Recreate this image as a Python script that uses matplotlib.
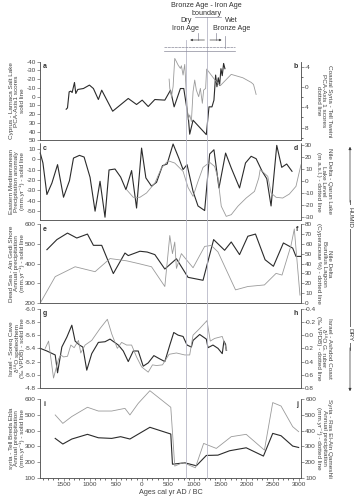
import numpy as np
import matplotlib.pyplot as plt
from matplotlib.ticker import MultipleLocator, FuncFormatter

plt.rcParams['font.family'] = ['Liberation Sans', 'DejaVu Sans']

# years: negative = AD, positive = BC
a_yr = [-1449, -1424, -1392, -1360, -1335, -1290, -1265, -1227, -1119, -1004, -928, -833, -769, -559,
        -261, -102, 6, 121, 248, 439, 547, 617, 737, 801, 890, 915, 979, 1233, 1284, 1341, 1379,
        1411, 1436, 1462, 1487, 1513, 1538, 1564, 1589]
a_val = [14.4, 12.9, -5.5, -6.3, -4.7, -16.2, -3.6, -8.2, -9.3, -13.2, -9.3, 3.3, -7.4, 16.7,
         2.1, 9, 4, 11.3, 3.3, 4, -7.4, 11.7, -9.3, -9.3, 25, 43, 27, 43.5, 11.7, 11.7, 4,
         -24.7, -11.3, -21.6, -13, -32, -24, -38, -32]

b_yr = [521, 534, 566, 597, 629, 661, 693, 737, 756, 788, 820, 852, 883, 915, 947, 979, 1011,
        1042, 1087, 1119, 1157, 1182, 1220, 1239, 1424, 1500, 1710, 1932, 2091, 2136, 2186]
b_val = [-1.57, 0.26, 1.9, -0.08, -5.65, -5.0, -4.34, -3.68, -4.2, -2.37, -4.47, 1.58, 6.5, 5.5,
         6.8, 0.92, -1.38, 0.6, 1.9, 0.26, 3.2, 0.6, 0.26, -3.55, -1.05, -0.27, -2.5, -1.83,
         -0.92, -0.52, 1.45]

c_yr = [-1945, -1894, -1818, -1722, -1614, -1500, -1386, -1309, -1195, -1106, -992, -896, -801,
        -706, -629, -515, -407, -305, -197, -102, -6, 76, 184, 280, 394, 483, 597, 706, 788, 864,
        979, 1074, 1201, 1297, 1379, 1475, 1602, 1710, 1869, 1983, 2091, 2186, 2301, 2390, 2472,
        2581, 2676, 2771, 2873]
c_val = [5.8, -3.7, -34, -23, -5.3, -36.6, -20.7, 1, 3.6, 2, -17.5, -50, -21.3, -55.8, -10.4,
         -9.5, -17.2, -29.3, -11, -47, 10.6, -18, -26, -22.3, -6.3, -4.7, 14.5, 1, -10, -5.3,
         -31, -45, -49.4, 4.9, 9, -27.7, 5.8, -8.5, -27.7, -3.7, 2.7, 0.4, -11.7, -18.8, -45,
         13.2, -7.9, -4.7, -11.7]

d_yr = [-292, -165, -38, 89, 248, 375, 502, 629, 788, 883, 979, 1074, 1170, 1297, 1392, 1456,
        1519, 1614, 1710, 1837, 1996, 2155, 2237, 2263, 2301, 2409, 2472, 2568, 2695, 2822,
        2949, 3000, 3045]
d_val = [-7.3, -13.6, -13.6, -10, -1.8, 10.7, 16.7, 14.8, 7.9, -5.4, -12.8, -0.4, 11.2, 15.4,
         12, 2.4, -21, -29.4, -28, -21, -14.2, -8.7, 2.4, 9.3, 8, 3.8, -10, -13.6, -14.2,
         -10.9, -4.5, 5.1, 13.4]

e_yr = [-1818, -1627, -1424, -1246, -1042, -928, -769, -547, -324, -261, -38, 102, 248, 439,
        661, 883, 1170, 1373, 1583, 1710, 1869, 2028, 2174, 2358, 2517, 2708, 2886, 2949, 3045]
e_val = [470, 521, 554, 529, 549, 492, 492, 349, 453, 440, 462, 458, 445, 372, 424, 330, 315,
         521, 467, 509, 445, 538, 549, 419, 386, 504, 478, 436, 436]

f_yr = [-1945, -1659, -1278, -896, -610, -292, -70, 184, 439, 534, 585, 629, 661, 756, 979,
        1201, 1328, 1456, 1792, 2028, 2345, 2568, 2682, 2854, 2917, 3025]
f_val = [0, 26.7, 36.7, 31.7, 45, 42.7, 40, 36.7, 16.7, 68.3, 50, 61.7, 35, 50, 35.7, 57.3,
         58.3, 51.7, 13.3, 16.7, 18.3, 30, 28.3, 58.3, 75, 8]

g_yr = [-1945, -1818, -1659, -1614, -1532, -1436, -1341, -1278, -1195, -1131, -1055, -960, -833,
        -706, -610, -451, -356, -261, -165, -70, 25, 121, 229, 343, 439, 534, 610, 693, 788,
        864, 947, 979, 1106, 1233, 1265, 1360, 1456, 1538, 1570, 1602, 1614]
g_val = [-5.40, -5.36, -5.30, -5.03, -5.42, -5.57, -5.75, -5.51, -5.45, -5.42, -5.07, -5.32,
         -5.49, -5.50, -5.54, -5.45, -5.36, -5.20, -5.36, -5.36, -5.13, -5.18, -5.29, -5.24,
         -5.20, -5.45, -5.64, -5.60, -5.58, -5.45, -5.42, -5.52, -5.61, -5.54, -5.41, -5.45,
         -5.40, -5.32, -5.51, -5.46, -5.37]

h_yr = [-1850, -1786, -1691, -1595, -1551, -1500, -1424, -1360, -1297, -1214, -1170, -1087,
        -960, -801, -661, -578, -470, -388, -292, -197, -102, -6, 121, 203, 280, 394, 521, 661,
        820, 915, 979, 1106, 1246, 1309, 1392, 1538, 1583, 1627]
h_val = [0.2, 0.09, 0.65, 0.36, 0.30, 0.33, 0.32, 0.15, 0.19, 0.08, 0.27, 0.15, 0.08, -0.10,
         -0.24, -0.02, 0.20, 0.11, 0.15, 0.15, 0.33, 0.48, 0.56, 0.45, 0.46, 0.45, 0.29, 0.27,
         0.30, 0.30, 0.0, -0.10, -0.22, 0.09, 0.05, 0.02, 0.13, 0.23]

i_yr = [-1659, -1513, -1341, -1042, -833, -578, -407, -229, 153, 553, 585, 820, 1042, 1233,
        1455, 1678, 1996, 2326, 2504, 2663, 2886, 3000]
i_val = [350, 314, 346, 376, 354, 350, 361, 346, 421, 378, 185, 194, 175, 241, 243, 271, 290,
         237, 382, 367, 301, 292]

j_yr = [-1659, -1513, -1341, -1042, -833, -578, -324, -229, -70, 153, 553, 629, 788, 1023,
        1182, 1424, 1710, 1996, 2345, 2504, 2663, 2886, 3000]
j_val = [500, 446, 490, 549, 525, 525, 542, 500, 574, 655, 549, 173, 196, 162, 318, 286, 361,
         376, 275, 579, 557, 425, 393]

boundary_yrs = [850, 1250]

left_labels = [
    'Cyprus - Larnaca Salt Lake\nPCA-Axis1 scores\nsolid line',
    'Eastern Mediterranean\nPrecipitation anomaly\n(mm.yr⁻¹) - solid line',
    'Dead Sea - Ain Gedi Shore\nAnnual precipitation\n(mm.yr⁻¹) - solid line',
    'Israel - Soreq Cave\nδ¹⁸O speleothem\n(‰ VPDB) - solid line',
    'syria - Tell Breda Ebla\nAnnual precipitation\n(mm.yr⁻¹) - solid line',
]
right_labels = [
    'Coastal Syria - Tell Tweini\nPCA-Axis 1 scores\ndotted line',
    'Nile Delta - Qarun Lake\nLake Level\n(m a.s.l.) - dotted line',
    'Nile Delta\nBurullus Lagoon\n(Cyperaceae %) - dotted line',
    'Israel - Ashdod Coast\nδ¹⁸O G. ruber\n(‰ VPDB) - dotted line',
    'Syria - Ras El-Ain Qameshli\nAnnual precipitation\n(mm.yr⁻¹) - dotted line',
]

W, H = 357, 500
XL, XR = 40, 301
XMIN, XMAX = -1950, 3045
fs = 4.6
dark = '#2b2b2b'
grey = '#9a9a9a'
txt = '#444444'

fig = plt.figure(figsize=(W / 100, H / 100), dpi=100)

# (top px, bottom px)
boxes = [(61.7, 140.3), (143.5, 219.5), (224, 303), (308.7, 388), (399.3, 477.5)]
series = [
    (a_yr, a_val, b_yr, b_val, (50, -40), 10, (10.5, -5), 4, '%d', '%d'),
    (c_yr, c_val, d_yr, d_val, (-58, 15), 10, (-32, 31), 10, '%d', '%d'),
    (e_yr, e_val, f_yr, f_val, (200, 600), 100, (0, 80), 10, '%d', '%d'),
    (g_yr, g_val, h_yr, h_val, (-4.8, -6.0), 0.2, (0.8, -0.4), 0.2, '%.1f', '%.1f'),
    (i_yr, i_val, j_yr, j_val, (100, 600), 100, (100, 600), 100, '%d', '%d'),
]
letters = [('a', 'b'), ('c', 'd'), ('e', 'f'), ('g', 'h'), ('i', 'j')]

for k, ((top, bot), s) in enumerate(zip(boxes, series)):
    xs1, ys1, xs2, ys2, lim1, st1, lim2, st2, f1, f2 = s
    ax = fig.add_axes([XL / W, 1 - bot / H, (XR - XL) / W, (bot - top) / H])
    ax2 = ax.twinx()
    ax.plot(xs1, ys1, color=dark, lw=0.8, zorder=3, clip_on=False)
    ax2.plot(xs2, ys2, color=grey, lw=0.6, zorder=2, clip_on=False)
    ax.set_xlim(XMIN, XMAX)
    ax.set_ylim(*lim1)
    ax2.set_ylim(*lim2)
    ax.yaxis.set_major_locator(MultipleLocator(st1))
    ax2.yaxis.set_major_locator(MultipleLocator(st2))
    if k == 0:
        ax2.yaxis.set_minor_locator(MultipleLocator(2))
    ax.yaxis.set_major_formatter(FuncFormatter(lambda v, p, f=f1: (f % v).replace('-0.0', '0.0')))
    ax2.yaxis.set_major_formatter(FuncFormatter(lambda v, p, f=f2: (f % v).replace('-0.0', '0.0')))
    for a in (ax, ax2):
        a.spines['top'].set_visible(False)
        for sp in a.spines.values():
            sp.set_linewidth(0.5)
            sp.set_color('#555555')
        a.tick_params(labelsize=fs, length=2, width=0.4, pad=1, colors=txt)
        a.tick_params(which='minor', length=1.2, width=0.4)
    if k < 4:
        ax.tick_params(axis='x', bottom=False, labelbottom=False)
    else:
        ax.set_xticks(range(-1500, 3001, 500))
        ax.xaxis.set_minor_locator(MultipleLocator(100))
        ax.xaxis.set_major_formatter(FuncFormatter(lambda v, p: '%d' % abs(v)))
        ax.set_xlabel('Ages cal yr AD / BC', fontsize=5.2, labelpad=2, color=txt)
    ax.text(0.012, 0.98, letters[k][0], transform=ax.transAxes, fontsize=5, va='top',
            ha='left', fontweight='bold', color='#333333')
    ax.text(0.988, 0.98, letters[k][1], transform=ax.transAxes, fontsize=5, va='top',
            ha='right', fontweight='bold', color='#333333')
    cy = 1 - (top + bot) / 2 / H
    fig.text(17 / W, cy, left_labels[k], rotation=90, ha='center', va='center',
             fontsize=fs, linespacing=1.15, color=txt)
    fig.text(324 / W, cy, right_labels[k], rotation=270, ha='center', va='center',
             fontsize=fs, linespacing=1.15, color=txt)

# overlay for the boundary annotation (x in years, y in figure pixels)
ov = fig.add_axes([XL / W, 0, (XR - XL) / W, 1], facecolor='none')
ov.set_xlim(XMIN, XMAX)
ov.set_ylim(H, 0)
ov.axis('off')
lc = '#8a8a9a'
ov.plot([boundary_yrs[0]] * 2, [40, 477.5], color='#b8b8c8', lw=0.6, clip_on=False)
ov.plot([boundary_yrs[1]] * 2, [17, 477.5], color='#b8b8c8', lw=0.6, clip_on=False)
ov.plot([1011, 1507], [17, 17], color=lc, lw=0.5, clip_on=False)
ov.plot([1068, 1068], [33, 40], color=lc, lw=0.5, clip_on=False)
ov.plot([1411, 1411], [33, 40], color=lc, lw=0.5, clip_on=False)
ov.plot([1583, 1583], [36, 48], color=lc, lw=0.5, clip_on=False)
ov.annotate('', xy=(boundary_yrs[0] + 20, 40), xytext=(boundary_yrs[1], 40),
            arrowprops=dict(arrowstyle='-|>', lw=0.5, color='#444444', mutation_scale=3))
ov.annotate('', xy=(1580, 40), xytext=(boundary_yrs[1], 40),
            arrowprops=dict(arrowstyle='-|>', lw=0.5, color='#444444', mutation_scale=3))
ov.plot([420, 1773], [46.5, 46.5], color=lc, lw=0.5, ls=(0, (4, 1)), clip_on=False)
ov.plot([420, 1773], [50.7, 50.7], color=lc, lw=0.5, clip_on=False)
ov.text(1240, 9.5, 'Bronze Age - Iron Age\nboundary', ha='center', va='center',
        fontsize=5.2, linespacing=1.2, color='#333333')
ov.text(839, 25, 'Dry\nIron Age', ha='center', va='center', fontsize=5.2,
        linespacing=1.2, color='#333333')
ov.text(1716, 25, 'Wet\nBronze Age', ha='center', va='center', fontsize=5.2,
        linespacing=1.2, color='#333333')

# humid / dry arrow on the right
fig.add_artist(plt.Line2D([350 / W] * 2, [1 - 200 / H, 1 - 350 / H], color='#333333', lw=0.5))
ov.annotate('', xy=(350 / W, 1 - 144 / H), xytext=(350 / W, 1 - 205 / H),
            xycoords='figure fraction', textcoords='figure fraction', annotation_clip=False,
            arrowprops=dict(arrowstyle='-|>', lw=0.5, color='#333333', mutation_scale=4))
ov.annotate('', xy=(350 / W, 1 - 394 / H), xytext=(350 / W, 1 - 345 / H),
            xycoords='figure fraction', textcoords='figure fraction', annotation_clip=False,
            arrowprops=dict(arrowstyle='-|>', lw=0.5, color='#333333', mutation_scale=4))
fig.text(350 / W, 1 - 217 / H, 'HUMID', rotation=270, ha='center', va='center', fontsize=4.6,
         color='#333333', bbox=dict(facecolor='white', edgecolor='none', pad=1))
fig.text(350 / W, 1 - 335 / H, 'DRY', rotation=270, ha='center', va='center', fontsize=4.6,
         color='#333333', bbox=dict(facecolor='white', edgecolor='none', pad=1))

fig.savefig('out.png', dpi=100)
